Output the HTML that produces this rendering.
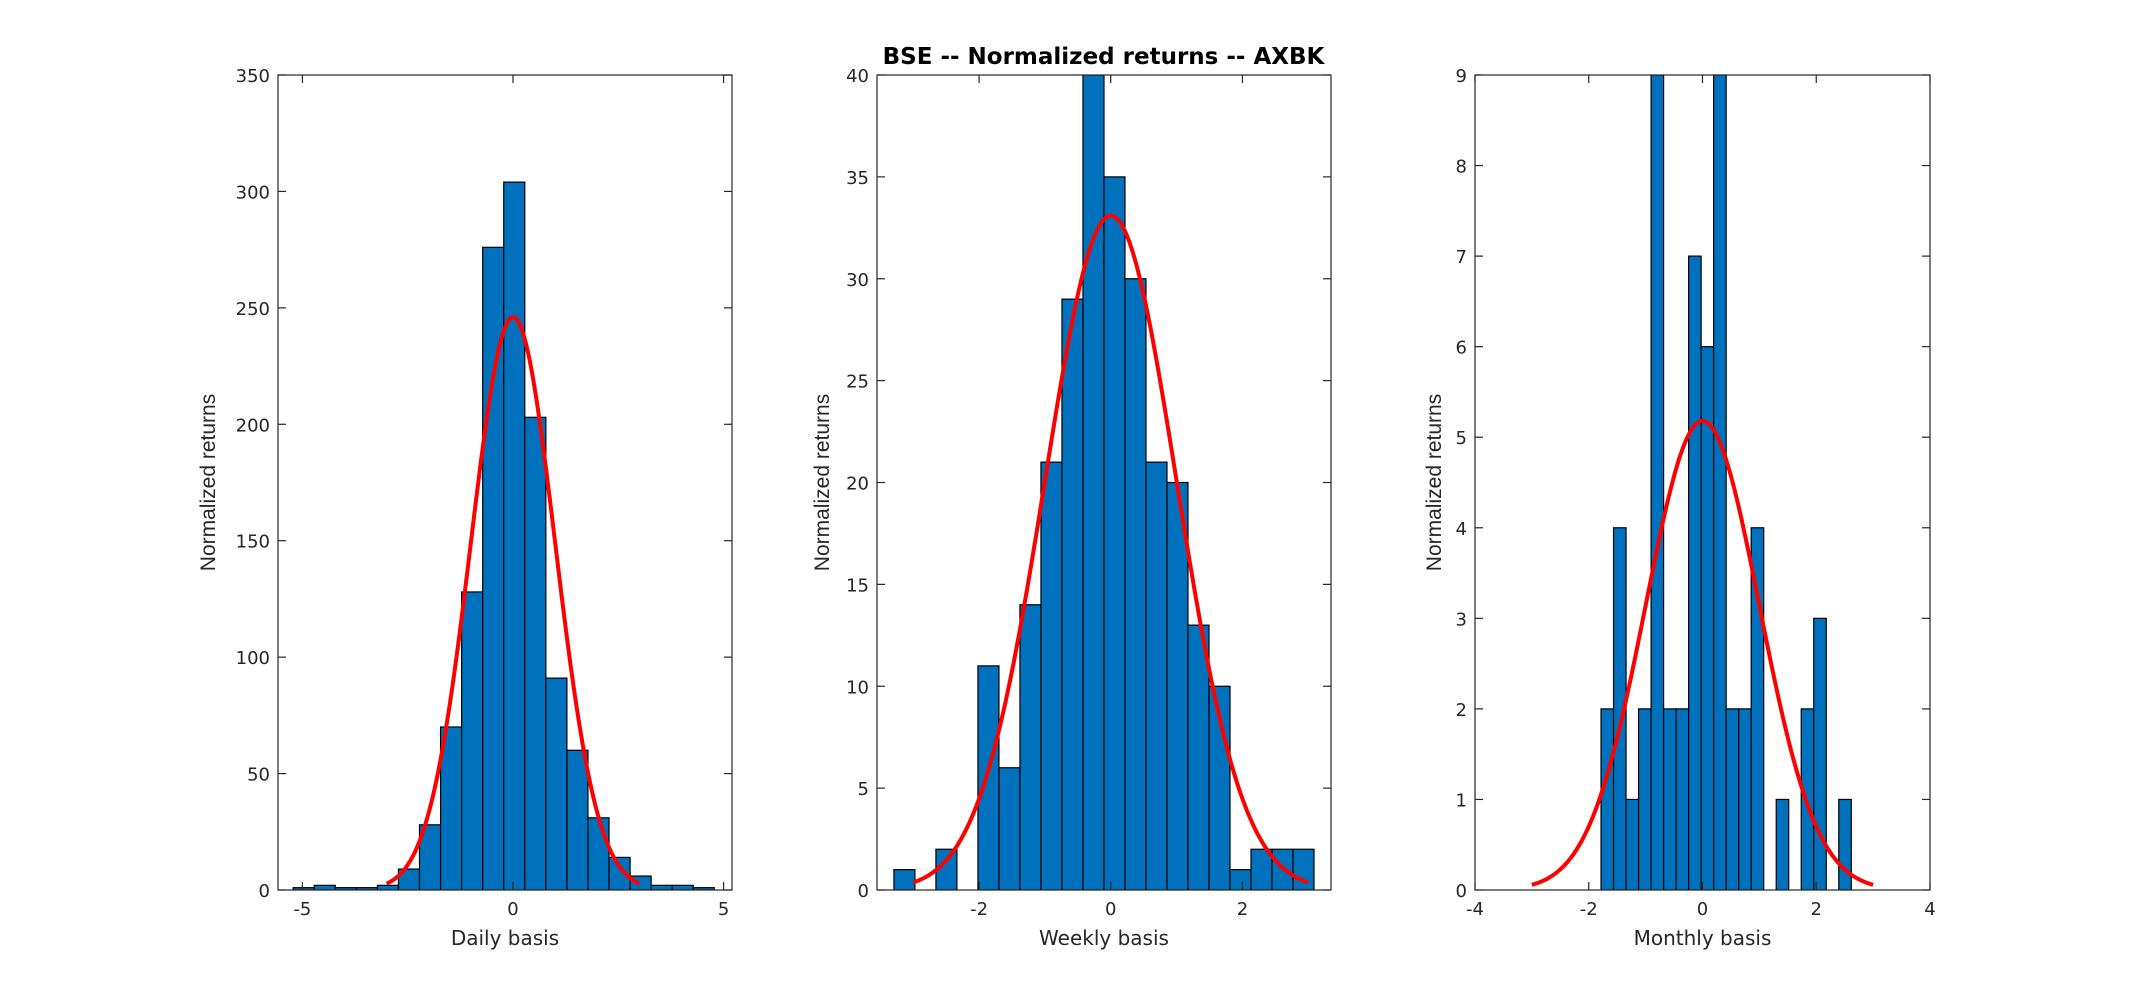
<!DOCTYPE html>
<html><head><meta charset="utf-8">
<style>
html,body{margin:0;padding:0;background:#fff;}
svg{display:block;font-family:"DejaVu Sans","Liberation Sans",sans-serif;}
</style></head>
<body>
<svg id="chart" width="2134" height="1000" viewBox="0 0 2134 1000" xmlns="http://www.w3.org/2000/svg">
<rect width="2134" height="1000" fill="#fff"/>
<text x="1103.5" y="64" text-anchor="middle" font-size="23" font-weight="bold" font-family="DejaVu Sans, sans-serif" fill="#000">BSE -- Normalized returns -- AXBK</text>
</svg>
<script>
// Daily panel data
const dailyCounts = [1,2,1,1,2,9,28,70,128,276,304,203,91,60,31,14,6,2,2,1];
const dailyEdge0 = -5.22;
const dailyBinWidth = 0.5;
const dailyYTicks = [0,50,100,150,200,250,300,350];
const dailyXTicks = [-5,0,5];
const dailyPeak = 246;
// Weekly panel data
const weeklyCounts = [1,0,2,0,11,6,14,21,29,40,35,30,21,20,13,10,1,2,2,2];
const weeklyEdge0 = -3.293;
const weeklyBinWidth = 0.319;
const weeklyYTicks = [0,5,10,15,20,25,30,35,40];
const weeklyXTicks = [-2,0,2];
const weeklyPeak = 33.1;
// Monthly panel data
const monthlyCounts = [2,4,1,2,9,2,2,7,6,9,2,2,4,0,1,0,2,3,0,1];
const monthlyEdge0 = -1.784;
const monthlyBinWidth = 0.22;
const monthlyYTicks = [0,1,2,3,4,5,6,7,8,9];
const monthlyXTicks = [-4,-2,0,2,4];
const monthlyPeak = 5.18;

const NS = "http://www.w3.org/2000/svg";
const svg = document.getElementById("chart");
function mk(tag, attrs, parent){
  const e = document.createElementNS(NS, tag);
  for (const k in attrs) e.setAttribute(k, attrs[k]);
  (parent||svg).appendChild(e);
  return e;
}

function panel(name, L, R, T, B, xmin, xmax, ymax, counts, edge0, bw, yTicks, xTicks, peak, xlabel, ylabelX){
  const g = mk("g", {});
  
  
  const sx = v => L + (v - xmin) / (xmax - xmin) * (R - L);
  const sy = v => B - v / ymax * (B - T);
  const clip = mk("clipPath", {id: name + "-clip"}, g);
  mk("rect", {x: L, y: T, width: R - L, height: B - T}, clip);
  const plot = mk("g", {"clip-path": "url(#" + name + "-clip)"}, g);
  counts.forEach((c, i) => {
    if (c <= 0) return;
    const x0 = sx(edge0 + i * bw), x1 = sx(edge0 + (i + 1) * bw);
    const r = mk("rect", {x: x0, y: sy(c), width: x1 - x0, height: sy(0) - sy(c), fill: "#0072BD", stroke: "#000", "stroke-width": 1.2}, plot);
    
    
  });
  let d = "";
  for (let k = 0; k <= 200; k++) {
    const x = -3 + 6 * k / 200;
    const y = peak * Math.exp(-x * x / 2);
    d += (k ? "L" : "M") + sx(x).toFixed(2) + "," + sy(y).toFixed(2);
  }
  const p = mk("path", {d: d, fill: "none", stroke: "#FF0000", "stroke-width": 4, "stroke-linejoin": "round"}, plot);
  
  
  const box = mk("rect", {x: L, y: T, width: R - L, height: B - T, fill: "none", stroke: "#262626", "stroke-width": 1.2}, g);
  
  
  const tl = 8;
  yTicks.forEach(v => {
    const y = sy(v);
    mk("line", {x1: L, x2: L + tl, y1: y, y2: y, stroke: "#262626", "stroke-width": 1.2}, g);
    mk("line", {x1: R, x2: R - tl, y1: y, y2: y, stroke: "#262626", "stroke-width": 1.2}, g);
    const t = mk("text", {x: L - 8, y: y + 7, "text-anchor": "end", "font-size": 18, fill: "#262626"}, g);
    t.textContent = v;
    
    
  });
  xTicks.forEach(v => {
    const x = sx(v);
    mk("line", {x1: x, x2: x, y1: B, y2: B - tl, stroke: "#262626", "stroke-width": 1.2}, g);
    mk("line", {x1: x, x2: x, y1: T, y2: T + tl, stroke: "#262626", "stroke-width": 1.2}, g);
    const t = mk("text", {x: x, y: B + 25, "text-anchor": "middle", "font-size": 18, fill: "#262626"}, g);
    t.textContent = v;
    
    
  });
  const xl = mk("text", {x: (L + R) / 2, y: B + 55, "text-anchor": "middle", "font-size": 20, fill: "#262626"}, g);
  xl.textContent = xlabel;
  
  
  const yl = mk("text", {x: 0, y: 0, "text-anchor": "middle", "font-size": 21, "font-family": "Liberation Sans, sans-serif", fill: "#262626", transform: "translate(" + ylabelX + "," + ((T + B) / 2) + ") rotate(-90)"}, g);
  yl.textContent = "Normalized returns";
  
  
}

panel("daily", 278, 732, 75, 890, -5.58, 5.2, 350, dailyCounts, dailyEdge0, dailyBinWidth, dailyYTicks, dailyXTicks, dailyPeak, "Daily basis", 215);
panel("weekly", 877, 1331, 75, 890, -3.55, 3.345, 40, weeklyCounts, weeklyEdge0, weeklyBinWidth, weeklyYTicks, weeklyXTicks, weeklyPeak, "Weekly basis", 829);
panel("monthly", 1475, 1930, 75, 890, -4, 4, 9, monthlyCounts, monthlyEdge0, monthlyBinWidth, monthlyYTicks, monthlyXTicks, monthlyPeak, "Monthly basis", 1441);
</script>
</body></html>
